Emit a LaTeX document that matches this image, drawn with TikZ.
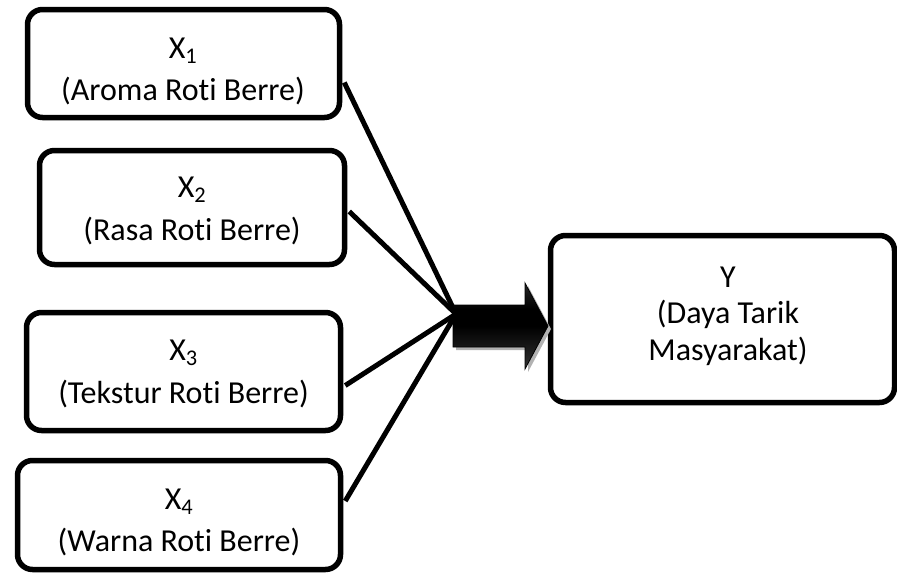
\documentclass[tikz,border=0pt]{standalone}
\usepackage{fontspec}
\setmainfont{Carlito}[Ligatures=NoCommon]
\usetikzlibrary{calc}
\pgfdeclareverticalshading{arrowshade}{100bp}{color(0bp)=(black!55); color(25bp)=(black!80); color(50bp)=(black); color(60bp)=(black); color(80bp)=(black!80); color(100bp)=(black!60)}
\begin{document}
\begin{tikzpicture}[x=1pt,y=-1pt,
  box/.style={draw=black,line width=5.5pt,rounded corners=15pt,rectangle,inner sep=0pt,fill=white},
  lbl/.style={anchor=base,inner sep=0pt,font=\fontsize{32}{36}\selectfont},
  link/.style={line width=5pt,draw=black}]
\useasboundingbox (0,0) rectangle (897,573);
% boxes
\node[box,minimum width=312pt,minimum height=108pt] (b1) at (183.5,63.5) {};
\node[box,minimum width=305pt,minimum height=114pt] (b2) at (192,207.5) {};
\node[box,minimum width=314pt,minimum height=118pt] (b3) at (183.5,371.5) {};
\node[box,minimum width=323pt,minimum height=109pt] (b4) at (179,515) {};
\node[box,minimum width=344pt,minimum height=167pt] (y) at (722.5,319) {};
% texts
\node[lbl] (t1a) at (183,58) {X\textsubscript{1}};
\node[lbl] (t1b) at (183,100) {(Aroma Roti Berre)};
\node[lbl] (t2a) at (192,197) {X\textsubscript{2}};
\node[lbl] (t2b) at (192,240) {(Rasa Roti Berre)};
\node[lbl] (t3a) at (183.5,360) {X\textsubscript{3}};
\node[lbl] (t3b) at (183.5,403) {(Tekstur Roti Berre)};
\node[lbl] (t4a) at (179,509) {X\textsubscript{4}};
\node[lbl] (t4b) at (179,551) {(Warna Roti Berre)};
\node[lbl] (ya) at (728,287) {Y};
\node[lbl] (yb) at (728,323) {(Daya Tarik};
\node[lbl] (yc) at (728,360) {Masyarakat)};
% connectors
\coordinate (hub) at (456,314);
\draw[link] ($(b1.east)+(2,19)$) -- (hub);
\draw[link] ($(b2.east)+(2,4)$) -- (hub);
\draw[link] ($(b3.east)+(2,14)$) -- (hub);
\draw[link] ($(b4.east)+(2,-14)$) -- (hub);
% block arrow
\fill[gray!60] (456,308) -- (528,308) -- (528,286) -- (551,329) -- (528,372) -- (528,350) -- (456,350) -- cycle;
\path[shading=arrowshade,draw=black,line width=0.8pt]
  (453,305) -- (525,305) -- (525,283) -- (548,326) -- (525,369) -- (525,347) -- (453,347) -- cycle;
\end{tikzpicture}
\end{document}
